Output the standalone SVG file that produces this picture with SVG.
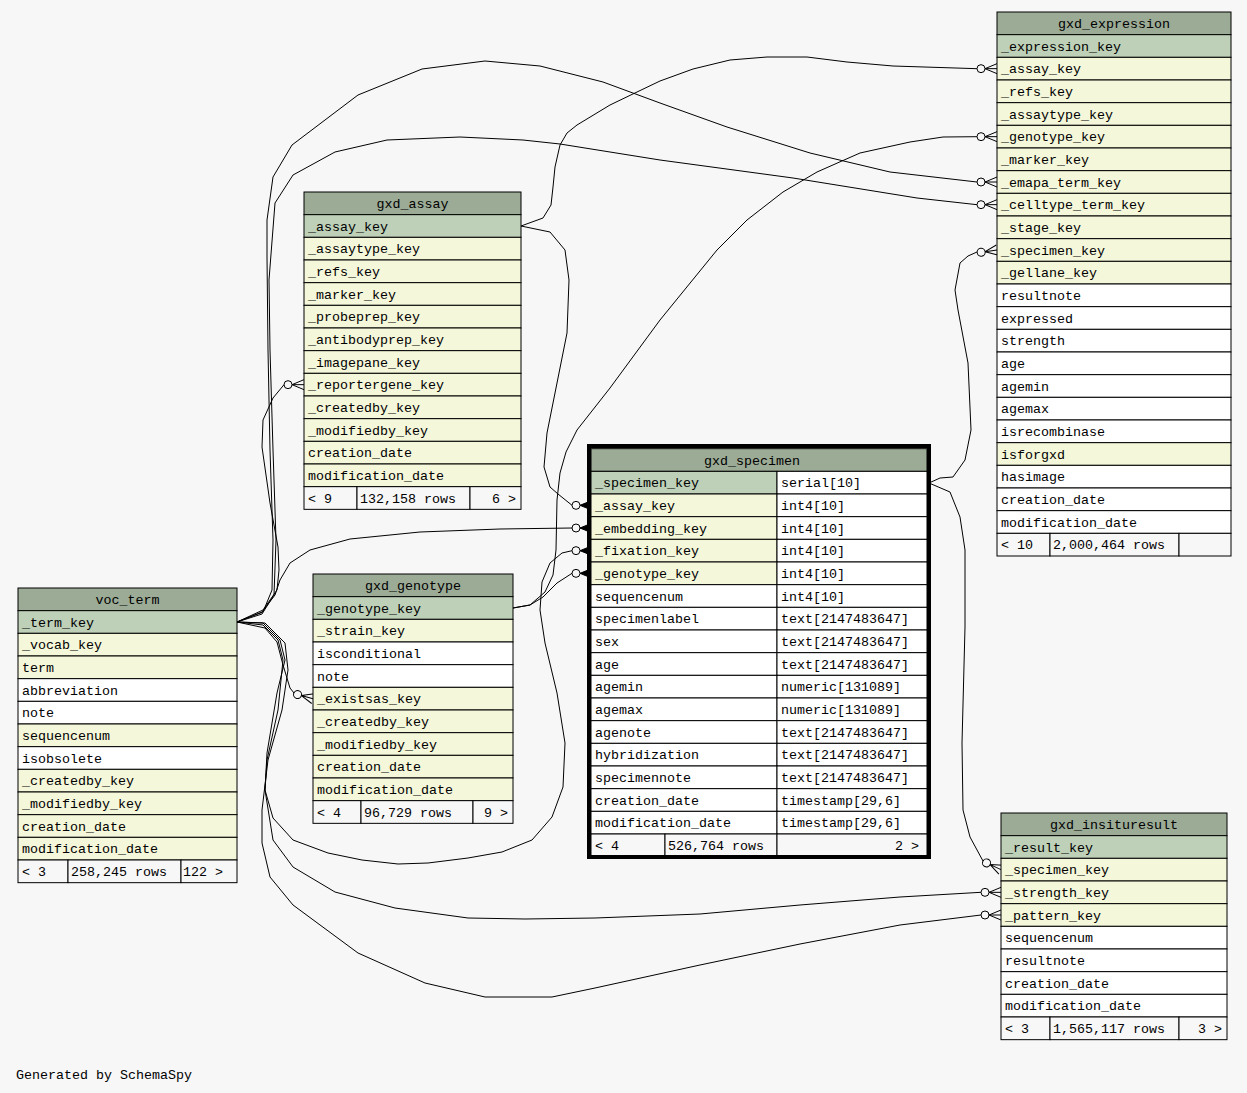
<svg xmlns="http://www.w3.org/2000/svg" xmlns:xlink="http://www.w3.org/1999/xlink" width="1247" height="1093" viewBox="0 0 1247 1093">
<style>
text{font-family:"Liberation Mono","DejaVu Sans Mono",monospace;font-size:13.33px;fill:#000}
.c{text-anchor:middle}
.r{text-anchor:end}
rect{stroke:#000;stroke-width:1}
rect.bg{stroke:none;fill:#f7f7f7}
rect.bold{fill:none;stroke:#000;stroke-width:4}
.h{fill:#9bab96}
.pk{fill:#bed1b8}
.fk{fill:#f4f7da}
.w{fill:#ffffff}
.ft{fill:#f7f7f7}
#edges path{fill:none;stroke:#000;stroke-width:1;stroke-linejoin:round}
</style>
<defs>
<g id="crow" fill="none" stroke="#000" stroke-width="1">
<circle cx="-16" cy="0" r="4" fill="none"/>
<path d="M-12,0 L0,0 M-12,0 L0,-5 M-12,0 L0,5"/>
</g>
<g id="crowf" stroke="#000" stroke-width="1">
<circle cx="-15" cy="0" r="4" fill="none"/>
<path d="M-11,0 L0,0" fill="none"/>
<path d="M-11,0 L0,-4.5 L0,4.5 Z" fill="#000"/>
</g>
</defs>
<rect class="bg" x="0" y="0" width="1247" height="1093"/>

<g id="edges">
<path d="M521,226 L543,218 L551,205 L553,187 L555,167 L560,145 L567,133 L577,125 L610,105 L637,92 L660,81 L693,69 L730,60 L767,57 L807,57 L847,62 L893,66 L977,68.7"/>
<path d="M521,226 L550,232 L565,250 L569,280 L567,333 L557,383 L547,433 L544,467 L550,487 L558,494 L572,505.3"/>
<path d="M237,622 L262,612 L275,595 L280,580 L290,563 L310,550 L350,539 L420,532 L500,529 L572,528"/>
<path d="M513,608 L530,605 L543,597 L557,583 L572,573.3"/>
<path d="M237,622 L263,623 L280,640 L285,660 L277,693 L267,753 L265,790 L273,818 L293,840 L328,853 L362,860 L398,864 L428,863 L468,858 L502,852 L532,840 L552,817 L563,787 L565,743 L557,693 L545,643 L540,610 L542,582 L550,563 L562,553 L572,550.7"/>
<path d="M513,608 L530,605 L545,592 L553,575 L556,550 L557,500 L560,473 L566,452 L577,430 L610,388 L660,320 L717,250 L747,220 L783,192 L817,172 L860,153 L910,142 L943,137 L977,136.7"/>
<path d="M237,622 L263,612 L272,590 L273,540 L270,450 L268,350 L267,257 L267,220 L273,177 L292,145 L358,95 L422,69 L485,61 L540,66 L603,82 L660,103 L727,127 L810,153 L890,172 L977,182"/>
<path d="M237,622 L262,614 L274,595 L276,540 L273,450 L270,350 L269,280 L275,203 L293,175 L335,152 L387,140 L460,137 L523,140 L560,144 L660,160 L793,178 L917,198 L977,204.7"/>
<path d="M237,622 L263,610 L277,590 L279,570 L278,547 L270,503 L262,447 L263,420 L273,398 L284,384.7"/>
<path d="M237,622 L265,628 L277,642 L283,665 L290,688 L294,693"/>
<path d="M237,622 L263,625 L278,640 L283,660 L278,710 L267,760 L265,790 L273,840 L293,867 L335,892 L395,908 L468,918 L525,919 L595,918 L700,914 L800,905 L900,897 L981,892.3"/>
<path d="M237,622 L265,623 L285,643 L288,670 L282,710 L268,760 L262,810 L262,843 L270,877 L293,905 L358,953 L425,983 L485,997 L552,997 L595,988 L700,965 L800,944 L900,925 L981,915"/>
<path d="M929,483 L940,478 L953,477 L965,460 L971,430 L968,363 L958,310 L955,290 L960,263 L968,256 L977,252"/>
<path d="M929,483 L950,492 L960,517 L965,550 L965,627 L962,743 L963,810 L970,837 L983,861"/>
<use xlink:href="#crow" href="#crow" transform="translate(997,68.67)"/>
<use xlink:href="#crow" href="#crow" transform="translate(997,136.67)"/>
<use xlink:href="#crow" href="#crow" transform="translate(997,182)"/>
<use xlink:href="#crow" href="#crow" transform="translate(997,204.67)"/>
<use xlink:href="#crow" href="#crow" transform="translate(997,250) rotate(-8)"/>
<use xlink:href="#crow" href="#crow" transform="translate(1001,869.67) rotate(25)"/>
<use xlink:href="#crow" href="#crow" transform="translate(1001,892.33)"/>
<use xlink:href="#crow" href="#crow" transform="translate(1001,915)"/>
<use xlink:href="#crow" href="#crow" transform="translate(304,384.67)"/>
<use xlink:href="#crow" href="#crow" transform="translate(313,698.67) rotate(15)"/>
<use xlink:href="#crowf" href="#crowf" transform="translate(591,505.33)"/>
<use xlink:href="#crowf" href="#crowf" transform="translate(591,528)"/>
<use xlink:href="#crowf" href="#crowf" transform="translate(591,550.67)"/>
<use xlink:href="#crowf" href="#crowf" transform="translate(591,573.33)"/>
</g>

<g id="gxd_expression" transform="translate(997,12)">
<rect class="h" x="0" y="0" width="234" height="22.67"/><text class="c" x="117" y="16">gxd_expression</text>
<rect class="pk" x="0" y="22.67" width="234" height="22.67"/><text x="4" y="38.67">_expression_key</text>
<rect class="fk" x="0" y="45.33" width="234" height="22.67"/><text x="4" y="61.33">_assay_key</text>
<rect class="fk" x="0" y="68" width="234" height="22.67"/><text x="4" y="84">_refs_key</text>
<rect class="fk" x="0" y="90.67" width="234" height="22.67"/><text x="4" y="106.67">_assaytype_key</text>
<rect class="fk" x="0" y="113.33" width="234" height="22.67"/><text x="4" y="129.33">_genotype_key</text>
<rect class="fk" x="0" y="136" width="234" height="22.67"/><text x="4" y="152">_marker_key</text>
<rect class="fk" x="0" y="158.67" width="234" height="22.67"/><text x="4" y="174.67">_emapa_term_key</text>
<rect class="fk" x="0" y="181.33" width="234" height="22.67"/><text x="4" y="197.33">_celltype_term_key</text>
<rect class="fk" x="0" y="204" width="234" height="22.67"/><text x="4" y="220">_stage_key</text>
<rect class="fk" x="0" y="226.67" width="234" height="22.67"/><text x="4" y="242.67">_specimen_key</text>
<rect class="fk" x="0" y="249.33" width="234" height="22.67"/><text x="4" y="265.33">_gellane_key</text>
<rect class="w" x="0" y="272" width="234" height="22.67"/><text x="4" y="288">resultnote</text>
<rect class="w" x="0" y="294.67" width="234" height="22.67"/><text x="4" y="310.67">expressed</text>
<rect class="w" x="0" y="317.33" width="234" height="22.67"/><text x="4" y="333.33">strength</text>
<rect class="w" x="0" y="340" width="234" height="22.67"/><text x="4" y="356">age</text>
<rect class="w" x="0" y="362.67" width="234" height="22.67"/><text x="4" y="378.67">agemin</text>
<rect class="w" x="0" y="385.33" width="234" height="22.67"/><text x="4" y="401.33">agemax</text>
<rect class="w" x="0" y="408" width="234" height="22.67"/><text x="4" y="424">isrecombinase</text>
<rect class="fk" x="0" y="430.67" width="234" height="22.67"/><text x="4" y="446.67">isforgxd</text>
<rect class="w" x="0" y="453.33" width="234" height="22.67"/><text x="4" y="469.33">hasimage</text>
<rect class="w" x="0" y="476" width="234" height="22.67"/><text x="4" y="492">creation_date</text>
<rect class="w" x="0" y="498.67" width="234" height="22.67"/><text x="4" y="514.67">modification_date</text>
<rect class="ft" x="0" y="521.33" width="53" height="22.67"/><text x="4" y="537.33">&lt; 10</text>
<rect class="ft" x="53" y="521.33" width="129" height="22.67"/><text x="56" y="537.33">2,000,464 rows</text>
<rect class="ft" x="182" y="521.33" width="52" height="22.67"/>
</g>

<g id="gxd_assay" transform="translate(304,192)">
<rect class="h" x="0" y="0" width="217" height="22.67"/><text class="c" x="108.5" y="16">gxd_assay</text>
<rect class="pk" x="0" y="22.67" width="217" height="22.67"/><text x="4" y="38.67">_assay_key</text>
<rect class="fk" x="0" y="45.33" width="217" height="22.67"/><text x="4" y="61.33">_assaytype_key</text>
<rect class="fk" x="0" y="68" width="217" height="22.67"/><text x="4" y="84">_refs_key</text>
<rect class="fk" x="0" y="90.67" width="217" height="22.67"/><text x="4" y="106.67">_marker_key</text>
<rect class="fk" x="0" y="113.33" width="217" height="22.67"/><text x="4" y="129.33">_probeprep_key</text>
<rect class="fk" x="0" y="136" width="217" height="22.67"/><text x="4" y="152">_antibodyprep_key</text>
<rect class="fk" x="0" y="158.67" width="217" height="22.67"/><text x="4" y="174.67">_imagepane_key</text>
<rect class="fk" x="0" y="181.33" width="217" height="22.67"/><text x="4" y="197.33">_reportergene_key</text>
<rect class="fk" x="0" y="204" width="217" height="22.67"/><text x="4" y="220">_createdby_key</text>
<rect class="fk" x="0" y="226.67" width="217" height="22.67"/><text x="4" y="242.67">_modifiedby_key</text>
<rect class="fk" x="0" y="249.33" width="217" height="22.67"/><text x="4" y="265.33">creation_date</text>
<rect class="fk" x="0" y="272" width="217" height="22.67"/><text x="4" y="288">modification_date</text>
<rect class="ft" x="0" y="294.67" width="53" height="22.67"/><text x="4" y="310.67">&lt; 9</text>
<rect class="ft" x="53" y="294.67" width="113" height="22.67"/><text x="56" y="310.67">132,158 rows</text>
<rect class="ft" x="166" y="294.67" width="51" height="22.67"/><text class="r" x="212" y="310.67">6 &gt;</text>
</g>

<g id="voc_term" transform="translate(18,588)">
<rect class="h" x="0" y="0" width="219" height="22.67"/><text class="c" x="109.5" y="16">voc_term</text>
<rect class="pk" x="0" y="22.67" width="219" height="22.67"/><text x="4" y="38.67">_term_key</text>
<rect class="fk" x="0" y="45.33" width="219" height="22.67"/><text x="4" y="61.33">_vocab_key</text>
<rect class="fk" x="0" y="68" width="219" height="22.67"/><text x="4" y="84">term</text>
<rect class="w" x="0" y="90.67" width="219" height="22.67"/><text x="4" y="106.67">abbreviation</text>
<rect class="w" x="0" y="113.33" width="219" height="22.67"/><text x="4" y="129.33">note</text>
<rect class="fk" x="0" y="136" width="219" height="22.67"/><text x="4" y="152">sequencenum</text>
<rect class="w" x="0" y="158.67" width="219" height="22.67"/><text x="4" y="174.67">isobsolete</text>
<rect class="fk" x="0" y="181.33" width="219" height="22.67"/><text x="4" y="197.33">_createdby_key</text>
<rect class="fk" x="0" y="204" width="219" height="22.67"/><text x="4" y="220">_modifiedby_key</text>
<rect class="fk" x="0" y="226.67" width="219" height="22.67"/><text x="4" y="242.67">creation_date</text>
<rect class="fk" x="0" y="249.33" width="219" height="22.67"/><text x="4" y="265.33">modification_date</text>
<rect class="ft" x="0" y="272" width="50" height="22.67"/><text x="4" y="288">&lt; 3</text>
<rect class="ft" x="50" y="272" width="113" height="22.67"/><text x="53" y="288">258,245 rows</text>
<rect class="ft" x="163" y="272" width="56" height="22.67"/><text class="r" x="205" y="288">122 &gt;</text>
</g>

<g id="gxd_genotype" transform="translate(313,574)">
<rect class="h" x="0" y="0" width="200" height="22.67"/><text class="c" x="100" y="16">gxd_genotype</text>
<rect class="pk" x="0" y="22.67" width="200" height="22.67"/><text x="4" y="38.67">_genotype_key</text>
<rect class="fk" x="0" y="45.33" width="200" height="22.67"/><text x="4" y="61.33">_strain_key</text>
<rect class="w" x="0" y="68" width="200" height="22.67"/><text x="4" y="84">isconditional</text>
<rect class="w" x="0" y="90.67" width="200" height="22.67"/><text x="4" y="106.67">note</text>
<rect class="fk" x="0" y="113.33" width="200" height="22.67"/><text x="4" y="129.33">_existsas_key</text>
<rect class="fk" x="0" y="136" width="200" height="22.67"/><text x="4" y="152">_createdby_key</text>
<rect class="fk" x="0" y="158.67" width="200" height="22.67"/><text x="4" y="174.67">_modifiedby_key</text>
<rect class="fk" x="0" y="181.33" width="200" height="22.67"/><text x="4" y="197.33">creation_date</text>
<rect class="fk" x="0" y="204" width="200" height="22.67"/><text x="4" y="220">modification_date</text>
<rect class="ft" x="0" y="226.67" width="48" height="22.67"/><text x="4" y="242.67">&lt; 4</text>
<rect class="ft" x="48" y="226.67" width="112" height="22.67"/><text x="51" y="242.67">96,729 rows</text>
<rect class="ft" x="160" y="226.67" width="40" height="22.67"/><text class="r" x="195" y="242.67">9 &gt;</text>
</g>

<g id="gxd_specimen" transform="translate(591,448.67)">
<rect class="h" x="0" y="0" width="336" height="22.67"/><text class="c" x="161" y="16">gxd_specimen</text>
<rect class="pk" x="0" y="22.67" width="186" height="22.67"/><text x="4" y="38.67">_specimen_key</text>
<rect class="w" x="186" y="22.67" width="150" height="22.67"/><text x="190" y="38.67">serial[10]</text>
<rect class="fk" x="0" y="45.33" width="186" height="22.67"/><text x="4" y="61.33">_assay_key</text>
<rect class="w" x="186" y="45.33" width="150" height="22.67"/><text x="190" y="61.33">int4[10]</text>
<rect class="fk" x="0" y="68" width="186" height="22.67"/><text x="4" y="84">_embedding_key</text>
<rect class="w" x="186" y="68" width="150" height="22.67"/><text x="190" y="84">int4[10]</text>
<rect class="fk" x="0" y="90.67" width="186" height="22.67"/><text x="4" y="106.67">_fixation_key</text>
<rect class="w" x="186" y="90.67" width="150" height="22.67"/><text x="190" y="106.67">int4[10]</text>
<rect class="fk" x="0" y="113.33" width="186" height="22.67"/><text x="4" y="129.33">_genotype_key</text>
<rect class="w" x="186" y="113.33" width="150" height="22.67"/><text x="190" y="129.33">int4[10]</text>
<rect class="w" x="0" y="136" width="186" height="22.67"/><text x="4" y="152">sequencenum</text>
<rect class="w" x="186" y="136" width="150" height="22.67"/><text x="190" y="152">int4[10]</text>
<rect class="w" x="0" y="158.67" width="186" height="22.67"/><text x="4" y="174.67">specimenlabel</text>
<rect class="w" x="186" y="158.67" width="150" height="22.67"/><text x="190" y="174.67">text[2147483647]</text>
<rect class="w" x="0" y="181.33" width="186" height="22.67"/><text x="4" y="197.33">sex</text>
<rect class="w" x="186" y="181.33" width="150" height="22.67"/><text x="190" y="197.33">text[2147483647]</text>
<rect class="w" x="0" y="204" width="186" height="22.67"/><text x="4" y="220">age</text>
<rect class="w" x="186" y="204" width="150" height="22.67"/><text x="190" y="220">text[2147483647]</text>
<rect class="w" x="0" y="226.67" width="186" height="22.67"/><text x="4" y="242.67">agemin</text>
<rect class="w" x="186" y="226.67" width="150" height="22.67"/><text x="190" y="242.67">numeric[131089]</text>
<rect class="w" x="0" y="249.33" width="186" height="22.67"/><text x="4" y="265.33">agemax</text>
<rect class="w" x="186" y="249.33" width="150" height="22.67"/><text x="190" y="265.33">numeric[131089]</text>
<rect class="w" x="0" y="272" width="186" height="22.67"/><text x="4" y="288">agenote</text>
<rect class="w" x="186" y="272" width="150" height="22.67"/><text x="190" y="288">text[2147483647]</text>
<rect class="w" x="0" y="294.67" width="186" height="22.67"/><text x="4" y="310.67">hybridization</text>
<rect class="w" x="186" y="294.67" width="150" height="22.67"/><text x="190" y="310.67">text[2147483647]</text>
<rect class="w" x="0" y="317.33" width="186" height="22.67"/><text x="4" y="333.33">specimennote</text>
<rect class="w" x="186" y="317.33" width="150" height="22.67"/><text x="190" y="333.33">text[2147483647]</text>
<rect class="w" x="0" y="340" width="186" height="22.67"/><text x="4" y="356">creation_date</text>
<rect class="w" x="186" y="340" width="150" height="22.67"/><text x="190" y="356">timestamp[29,6]</text>
<rect class="w" x="0" y="362.67" width="186" height="22.67"/><text x="4" y="378.67">modification_date</text>
<rect class="w" x="186" y="362.67" width="150" height="22.67"/><text x="190" y="378.67">timestamp[29,6]</text>
<rect class="ft" x="0" y="385.33" width="74" height="22"/><text x="4" y="401.33">&lt; 4</text>
<rect class="ft" x="74" y="385.33" width="112" height="22"/><text x="77" y="401.33">526,764 rows</text>
<rect class="ft" x="186" y="385.33" width="150" height="22"/><text class="r" x="328" y="401.33">2 &gt;</text>
<rect class="bold" x="-2" y="-2.67" width="340" height="411"/>
</g>

<g id="gxd_insituresult" transform="translate(1001,813)">
<rect class="h" x="0" y="0" width="226" height="22.67"/><text class="c" x="113" y="16">gxd_insituresult</text>
<rect class="pk" x="0" y="22.67" width="226" height="22.67"/><text x="4" y="38.67">_result_key</text>
<rect class="fk" x="0" y="45.33" width="226" height="22.67"/><text x="4" y="61.33">_specimen_key</text>
<rect class="fk" x="0" y="68" width="226" height="22.67"/><text x="4" y="84">_strength_key</text>
<rect class="fk" x="0" y="90.67" width="226" height="22.67"/><text x="4" y="106.67">_pattern_key</text>
<rect class="w" x="0" y="113.33" width="226" height="22.67"/><text x="4" y="129.33">sequencenum</text>
<rect class="w" x="0" y="136" width="226" height="22.67"/><text x="4" y="152">resultnote</text>
<rect class="w" x="0" y="158.67" width="226" height="22.67"/><text x="4" y="174.67">creation_date</text>
<rect class="w" x="0" y="181.33" width="226" height="22.67"/><text x="4" y="197.33">modification_date</text>
<rect class="ft" x="0" y="204" width="49" height="22.67"/><text x="4" y="220">&lt; 3</text>
<rect class="ft" x="49" y="204" width="129" height="22.67"/><text x="52" y="220">1,565,117 rows</text>
<rect class="ft" x="178" y="204" width="48" height="22.67"/><text class="r" x="221" y="220">3 &gt;</text>
</g>

<text x="16" y="1079">Generated by SchemaSpy</text>
</svg>
